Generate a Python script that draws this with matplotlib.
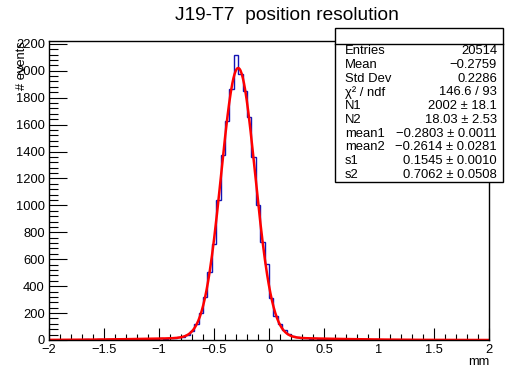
import numpy as np
import matplotlib
matplotlib.use("Agg")
import matplotlib.pyplot as plt
from matplotlib.patches import Rectangle
from matplotlib.lines import Line2D
from matplotlib.ticker import MultipleLocator, FixedLocator

plt.rcParams['font.family'] = ['Liberation Sans', 'DejaVu Sans']

# Histogram: 100 bins from -2 to 2 mm
x_lo, x_hi, n_bins = -2.0, 2.0, 100
counts = [
    1, 1, 2, 1, 1, 3, 2, 1, 4, 2,
    3, 5, 3, 4, 6, 4, 7, 5, 8, 6,
    9, 7, 10, 8, 11, 12, 10, 14, 13, 19,
    22, 36, 68, 118, 197, 316, 506, 712, 1037, 1372,
    1630, 1864, 2115, 1975, 1852, 1654, 1362, 1000, 728, 561,
    309, 180, 116, 74, 42, 30, 20, 17, 14, 11,
    12, 9, 11, 8, 10, 7, 8, 6, 7, 5,
    6, 4, 5, 3, 4, 3, 2, 3, 2, 1,
    3, 1, 2, 1, 1, 2, 0, 1, 1, 1,
    1, 2, 1, 1, 1, 1, 1, 1, 1, 1,
]

# Double-gaussian fit parameters
N1, N2 = 2002.0, 18.03
mean1, mean2 = -0.2803, -0.2614
s1, s2 = 0.1545, 0.7062

title = "J19-T7  position resolution"
x_title = "mm"
y_title = "# events"
x_ticks = [-2, -1.5, -1, -0.5, 0, 0.5, 1, 1.5, 2]
y_ticks = list(range(0, 2201, 200))

stats_names = ["Entries", "Mean", "Std Dev", "\u03c7\u00b2 / ndf", "N1", "N2",
               "mean1", "mean2", "s1", "s2"]
stats_values = ["20514", "\u22120.2759", "0.2286", "146.6 / 93",
                "2002 \u00b1 18.1", "18.03 \u00b1 2.53",
                "\u22120.2803 \u00b1 0.0011", "\u22120.2614 \u00b1 0.0281",
                "0.1545 \u00b1 0.0010", "0.7062 \u00b1 0.0508"]

W, H = 532, 370
fig = plt.figure(figsize=(W / 100, H / 100), dpi=100)
fig.patch.set_facecolor("white")

ax_left, ax_right, ax_top, ax_bottom = 49, 489, 41, 340
ax = fig.add_axes([ax_left / W, 1 - ax_bottom / H,
                   (ax_right - ax_left) / W, (ax_bottom - ax_top) / H])

edges = np.linspace(x_lo, x_hi, n_bins + 1)
ax.stairs(counts, edges, color="#1414b4", linewidth=1.0)


def double_gaus(x):
    return (N1 * np.exp(-0.5 * ((x - mean1) / s1) ** 2)
            + N2 * np.exp(-0.5 * ((x - mean2) / s2) ** 2))


xf = np.linspace(x_lo, x_hi, 800)
ax.plot(xf, double_gaus(xf), color="#ff0000", linewidth=1.8)

ax.set_xlim(x_lo, x_hi)
ax.set_ylim(0, 1.05 * max(counts))

ax.xaxis.set_major_locator(FixedLocator(x_ticks))
ax.xaxis.set_minor_locator(MultipleLocator(0.1))
ax.yaxis.set_major_locator(FixedLocator(y_ticks))
ax.yaxis.set_minor_locator(MultipleLocator(40))
ax.set_xticklabels([("\u2212" if t < 0 else "") + f"{abs(t):g}" for t in x_ticks])
ax.set_yticklabels([str(t) for t in y_ticks])

ax.tick_params(axis="both", which="both", direction="in", top=False, right=False,
               labelsize=9.3, width=0.8, colors="black")
ax.tick_params(axis="x", which="major", length=9, pad=3)
ax.tick_params(axis="x", which="minor", length=4.5)
ax.tick_params(axis="y", which="major", length=13, pad=3)
ax.tick_params(axis="y", which="minor", length=6.5)
for sp in ax.spines.values():
    sp.set_linewidth(1.0)
    sp.set_color("black")

# Titles
fig.text(287 / W, 1 - 16 / H, title, ha="center", va="center", fontsize=13.8)
fig.text(489 / W, 1 - 362 / H, x_title, ha="right", va="center", fontsize=9.3)
fig.text(22 / W, 1 - 41 / H, y_title, ha="center", va="top", rotation=90,
         fontsize=9.3)

# Statistics box
bx0, bx1, by0, by1 = 335, 503, 28, 182
head = 44
fig.add_artist(Rectangle((bx0 / W, 1 - by1 / H), (bx1 - bx0) / W, (by1 - by0) / H,
                         transform=fig.transFigure, facecolor="white",
                         edgecolor="black", linewidth=1.0, zorder=5))
fig.add_artist(Line2D([bx0 / W, bx1 / W], [1 - head / H, 1 - head / H],
                      transform=fig.transFigure, color="black", linewidth=1.0,
                      zorder=6))
row_h = (by1 - head) / len(stats_names)
for i, (name, val) in enumerate(zip(stats_names, stats_values)):
    yc = head + row_h * (i + 0.5)
    fig.text(345 / W, 1 - yc / H, name, ha="left", va="center", fontsize=9.4,
             zorder=7)
    fig.text(497 / W, 1 - yc / H, val, ha="right", va="center", fontsize=9.4,
             zorder=7)

fig.savefig("out.png", dpi=100, facecolor="white")
